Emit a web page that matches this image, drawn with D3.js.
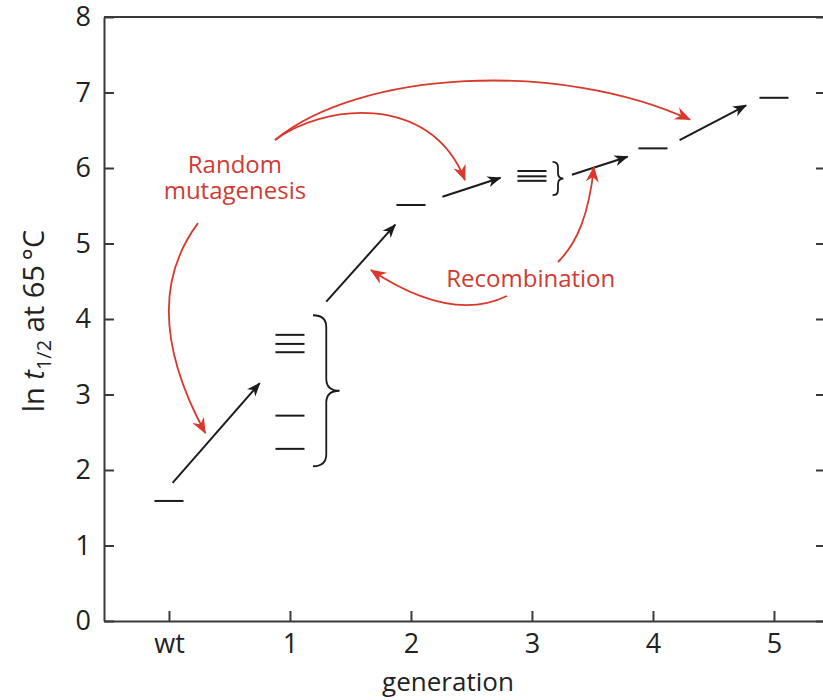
<!DOCTYPE html>
<html>
<head>
<meta charset="utf-8">
<script src="https://cdn.jsdelivr.net/npm/d3@7"></script>
<style>
  html, body { margin: 0; padding: 0; background: #fff; }
  svg { display: block; font-family: "Open Sans", sans-serif; }
  .axis path, .axis line { stroke: #3a3a3a; stroke-width: 2; }
  .axis text { font-size: 27px; fill: #222; font-family: "Open Sans", sans-serif; }
</style>
</head>
<body>
<svg id="chart"></svg>
<script>
// generations on the x axis (wt = index 0)
var generations = ["wt", "1", "2", "3", "4", "5"];
var yTicks = [0, 1, 2, 3, 4, 5, 6, 7, 8];

// measured variants: generation index and ln t1/2
var variantGen = [0, 1, 1, 1, 1, 1, 2, 3, 3, 3, 4, 5];
var variantValue = [1.59, 3.79, 3.67, 3.56, 2.72, 2.28, 5.51, 5.96, 5.89, 5.83, 6.26, 6.93];

// black step arrows (generation, value)
var stepFrom = [[0.03, 1.83], [1.30, 4.23], [2.26, 5.62], [3.33, 5.91], [4.22, 6.37]];
var stepTo = [[0.75, 3.15], [1.87, 5.25], [2.74, 5.87], [3.79, 6.15], [4.77, 6.83]];

// braces grouping the pooled variants
var braceLeft = [1.19, 3.17];
var braceTip = [1.41, 3.26];
var braceTop = [4.05, 6.08];
var braceBottom = [2.05, 5.64];

// red annotation curves, cubic control points (generation, value)
var redCurves = [
  [[0.24, 5.27], [-0.10, 4.54], [-0.08, 3.61], [0.30, 2.49]],
  [[0.876, 6.37], [1.248, 6.83], [2.157, 7.03], [2.446, 5.84]],
  [[0.876, 6.37], [1.579, 7.30], [3.231, 7.43], [4.306, 6.64]],
  [[2.793, 4.305], [2.485, 4.066], [2.110, 4.181], [1.669, 4.649]],
  [[3.215, 4.755], [3.374, 5.011], [3.469, 5.373], [3.512, 6.013]]
];

// red labels (lines of each label, position of first baseline)
var labelLines = [["Random", "mutagenesis"], ["Recombination"]];
var labelPos = [[0.545, 5.93], [2.99, 4.42]];

var width = 823, height = 700;
var plotLeft = 104, plotRight = 826, plotTop = 17, plotBottom = 621;

var svg = d3.select("#chart").attr("width", width).attr("height", height);

var x = d3.scaleLinear().domain([-0.537, 5.43]).range([plotLeft, plotRight]);
var y = d3.scaleLinear().domain([0, 8]).range([plotBottom, plotTop]);

var red = "#d8392c";
var ink = "#1b1b1b";

// arrowheads
var defs = svg.append("defs");
defs.append("marker")
  .attr("id", "headBlack")
  .attr("markerUnits", "userSpaceOnUse")
  .attr("viewBox", "-14 -7 16 14")
  .attr("refX", 0).attr("refY", 0)
  .attr("markerWidth", 16).attr("markerHeight", 14)
  .attr("orient", "auto")
  .append("path")
  .attr("d", "M1,0 L-13,-5.5 L-9,0 L-13,5.5 Z")
  .attr("fill", ink);
defs.append("marker")
  .attr("id", "headRed")
  .attr("markerUnits", "userSpaceOnUse")
  .attr("viewBox", "-16 -8 18 16")
  .attr("refX", 0).attr("refY", 0)
  .attr("markerWidth", 18).attr("markerHeight", 16)
  .attr("orient", "auto")
  .append("path")
  .attr("d", "M1,0 L-15,-6.5 L-10,0 L-15,6.5 Z")
  .attr("fill", red);

// axes: ticks point inward
svg.append("g")
  .attr("class", "axis")
  .attr("transform", "translate(0," + plotBottom + ")")
  .call(d3.axisBottom(x)
    .tickValues(d3.range(generations.length))
    .tickFormat(function(i) { return generations[i]; })
    .tickSize(-10).tickSizeOuter(0).tickPadding(13));

svg.append("g")
  .attr("class", "axis")
  .attr("transform", "translate(" + plotLeft + ",0)")
  .call(d3.axisLeft(y).tickValues(yTicks).tickFormat(d3.format("d"))
    .tickSize(-10).tickSizeOuter(0).tickPadding(13));

svg.append("g")
  .attr("class", "axis")
  .attr("transform", "translate(" + plotRight + ",0)")
  .call(d3.axisRight(y).tickValues(yTicks).tickFormat("")
    .tickSize(-10).tickSizeOuter(0));

svg.append("line")
  .attr("x1", plotLeft).attr("x2", plotRight)
  .attr("y1", y(8)).attr("y2", y(8))
  .attr("stroke", "#3a3a3a").attr("stroke-width", 2);

// axis titles
svg.append("text")
  .attr("x", 448).attr("y", 691)
  .attr("text-anchor", "middle")
  .attr("font-size", 26).attr("fill", "#222")
  .text("generation");

var yTitle = svg.append("text")
  .attr("transform", "translate(44,321) rotate(-90)")
  .attr("text-anchor", "middle")
  .attr("font-size", 29).attr("fill", "#222");
yTitle.append("tspan").text("ln ");
yTitle.append("tspan").attr("font-style", "italic").text("t");
yTitle.append("tspan").attr("font-size", 20).attr("dy", 7).text("1/2");
yTitle.append("tspan").attr("dy", -7).text(" at 65\u2009\u00b0C");

// variant dashes
var half = 0.12;
svg.append("g").selectAll("line")
  .data(variantValue)
  .enter().append("line")
  .attr("x1", function(d, i) { return x(variantGen[i] - half); })
  .attr("x2", function(d, i) { return x(variantGen[i] + half); })
  .attr("y1", function(d) { return y(d); })
  .attr("y2", function(d) { return y(d); })
  .attr("stroke", ink).attr("stroke-width", 2);

// braces
var brace = function(i) {
  var x0 = x(braceLeft[i]), x1 = x(braceTip[i]), xm = (x0 + x1) / 2;
  var y0 = y(braceTop[i]), y1 = y(braceBottom[i]), ym = (y0 + y1) / 2;
  var r = Math.min(12, (y1 - y0) / 6);
  var p = d3.path();
  p.moveTo(x0, y0);
  p.quadraticCurveTo(xm, y0, xm, y0 + r);
  p.lineTo(xm, ym - r);
  p.quadraticCurveTo(xm, ym, x1, ym);
  p.quadraticCurveTo(xm, ym, xm, ym + r);
  p.lineTo(xm, y1 - r);
  p.quadraticCurveTo(xm, y1, x0, y1);
  return p.toString();
};
svg.append("g").selectAll("path")
  .data(braceLeft)
  .enter().append("path")
  .attr("d", function(d, i) { return brace(i); })
  .attr("fill", "none").attr("stroke", ink).attr("stroke-width", 1.8);

// black step arrows
svg.append("g").selectAll("line")
  .data(stepFrom)
  .enter().append("line")
  .attr("x1", function(d) { return x(d[0]); })
  .attr("y1", function(d) { return y(d[1]); })
  .attr("x2", function(d, i) { return x(stepTo[i][0]); })
  .attr("y2", function(d, i) { return y(stepTo[i][1]); })
  .attr("stroke", ink).attr("stroke-width", 2)
  .attr("marker-end", "url(#headBlack)");

// red annotation arrows
svg.append("g").selectAll("path")
  .data(redCurves)
  .enter().append("path")
  .attr("d", function(c) {
    var p = d3.path();
    p.moveTo(x(c[0][0]), y(c[0][1]));
    p.bezierCurveTo(x(c[1][0]), y(c[1][1]), x(c[2][0]), y(c[2][1]), x(c[3][0]), y(c[3][1]));
    return p.toString();
  })
  .attr("fill", "none").attr("stroke", red).attr("stroke-width", 1.8)
  .attr("marker-end", "url(#headRed)");

var labels = svg.append("g").selectAll("text")
  .data(labelLines)
  .enter().append("text")
  .attr("text-anchor", "middle")
  .attr("font-size", 24).attr("fill", "#cf3b33");
labels.selectAll("tspan")
  .data(function(d, i) { return d.map(function(s) { return { s: s, i: i }; }); })
  .enter().append("tspan")
  .attr("x", function(d) { return x(labelPos[d.i][0]); })
  .attr("y", function(d, j) { return y(labelPos[d.i][1]) + j * 26; })
  .text(function(d) { return d.s; });
</script>
</body>
</html>
